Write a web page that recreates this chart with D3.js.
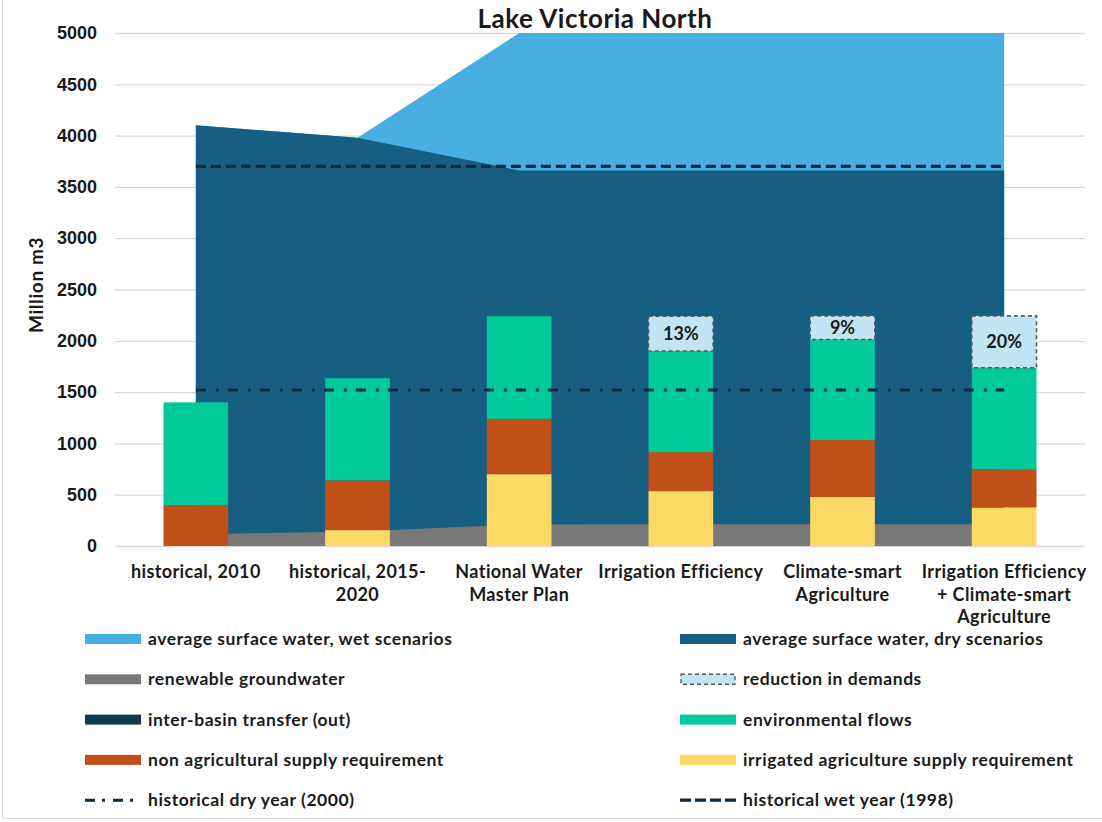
<!DOCTYPE html>
<html>
<head>
<meta charset="utf-8">
<script src="https://cdn.jsdelivr.net/npm/d3@7"></script>
<style>
  body { margin: 0; background: #fff; }
  text { font-family: Lato, "Liberation Sans", sans-serif; fill: #1a1a1a; }
</style>
</head>
<body>
<svg id="chart" width="1102" height="822"></svg>
<script>
// Water balance scenarios, Lake Victoria North basin (million m3)
const categories = [
  "historical, 2010",
  "historical, 2015-2020",
  "National Water Master Plan",
  "Irrigation Efficiency",
  "Climate-smart Agriculture",
  "Irrigation Efficiency + Climate-smart Agriculture"
];
const tickLabels = [
  ["historical, 2010"],
  ["historical, 2015-", "2020"],
  ["National Water", "Master Plan"],
  ["Irrigation Efficiency"],
  ["Climate-smart", "Agriculture"],
  ["Irrigation Efficiency", "+ Climate-smart", "Agriculture"]
];

// supply (areas)
const surfaceWet  = [4100, 3980, 5000, 5000, 5000, 5000];
const surfaceDry  = [4100, 3980, 3660, 3660, 3660, 3660];
const groundwater = [115, 142, 210, 212, 212, 212];

// demand (stacked columns)
const interBasinOut      = [0, 0, 0, 0, 0, 0];
const irrigatedAg        = [0, 155, 700, 535, 478, 375];
const nonAgricultural    = [400, 485, 540, 380, 555, 375];
const environmentalFlows = [1000, 995, 1000, 985, 980, 988];
const demandReduction    = [0, 0, 0, 340, 230, 505];
const reductionLabels    = ["", "", "", "13%", "9%", "20%"];

// reference years
const dryYear2000 = 1520;
const wetYear1998 = 3700;

const yTicks = [0, 500, 1000, 1500, 2000, 2500, 3000, 3500, 4000, 4500, 5000];

const colors = {
  wet: "#47AFE0",
  dry: "#175F82",
  groundwater: "#787878",
  reduction: "#C2E5F5",
  interBasin: "#0D3A50",
  env: "#00C99A",
  nonAg: "#C05017",
  irrigated: "#FFD966",
  refLine: "#0E2A3C"
};

const svg = d3.select("#chart");
const plot = { left: 115, right: 1085, top: 33, bottom: 546 };

const x = d3.scaleBand()
  .domain(categories)
  .range([plot.left, plot.right])
  .paddingInner(0.6)
  .paddingOuter(0.3);
const cx = c => x(c) + x.bandwidth() / 2;

const y = d3.scaleLinear().domain([0, 5000]).range([plot.bottom, plot.top]);

// chart frame (left and bottom edge)
svg.append("path")
  .attr("d", "M2.5,0V818.5H1102")
  .attr("fill", "none").attr("stroke", "#d9d9d9").attr("stroke-width", 1);

// title
svg.append("text")
  .attr("x", 595).attr("y", 28)
  .attr("text-anchor", "middle")
  .style("font-size", "26px").style("font-weight", 700).style("letter-spacing", "0.5px")
  .text("Lake Victoria North");

// gridlines + y tick labels
const yAxis = svg.append("g")
  .attr("transform", `translate(${plot.left},0)`)
  .call(d3.axisLeft(y).tickValues(yTicks).tickFormat(d3.format("d"))
    .tickSize(-(plot.right - plot.left)).tickPadding(18));
yAxis.select(".domain").remove();
yAxis.selectAll(".tick line").attr("stroke", "#d9d9d9").attr("stroke-width", 1.3);
yAxis.selectAll(".tick text")
  .style("font-family", "'Liberation Sans', Arial, sans-serif")
  .style("font-size", "18px").style("font-weight", 700).attr("fill", "#1a1a1a");

// y axis title
svg.append("text")
  .attr("transform", "translate(43,285) rotate(-90)")
  .attr("text-anchor", "middle")
  .style("font-size", "19px").style("font-weight", 700).style("letter-spacing", "0.6px")
  .text("Million m3");

// clip for the supply areas
svg.append("clipPath").attr("id", "plotClip")
  .append("rect")
  .attr("x", plot.left).attr("y", plot.top)
  .attr("width", plot.right - plot.left).attr("height", plot.bottom - plot.top);

const areaGen = d3.area()
  .x(d => cx(d.cat))
  .y0(y(0))
  .y1(d => y(d.v));
const asSeries = arr => categories.map((c, i) => ({ cat: c, v: arr[i] }));

const areas = svg.append("g").attr("clip-path", "url(#plotClip)");
areas.append("path").attr("d", areaGen(asSeries(surfaceWet))).attr("fill", colors.wet);
areas.append("path").attr("d", areaGen(asSeries(surfaceDry))).attr("fill", colors.dry);
areas.append("path").attr("d", areaGen(asSeries(groundwater))).attr("fill", colors.groundwater);

// wet-year reference line
const refLine = (val) => d3.line()([[cx(categories[0]), y(val)], [cx(categories[categories.length - 1]), y(val)]]);
svg.append("path")
  .attr("d", refLine(wetYear1998))
  .attr("stroke", colors.refLine).attr("stroke-width", 3.2)
  .attr("stroke-dasharray", "10,5").attr("fill", "none");

// stacked demand columns
const rows = categories.map((c, i) => ({
  cat: c,
  interBasin: interBasinOut[i],
  irrigated: irrigatedAg[i],
  nonAg: nonAgricultural[i],
  env: environmentalFlows[i],
  reduction: demandReduction[i]
}));
const keys = ["interBasin", "irrigated", "nonAg", "env", "reduction"];
const stacked = d3.stack().keys(keys)(rows);

const bars = svg.append("g");
stacked.forEach(layer => {
  const key = layer.key;
  bars.append("g").selectAll("rect")
    .data(layer.filter(d => d[1] - d[0] > 0))
    .join("rect")
    .attr("x", d => x(d.data.cat))
    .attr("width", x.bandwidth())
    .attr("y", d => y(d[1]))
    .attr("height", d => y(d[0]) - y(d[1]))
    .attr("fill", colors[key])
    .attr("stroke", key === "reduction" ? "#595959" : "none")
    .attr("stroke-width", key === "reduction" ? 1.6 : 0)
    .attr("stroke-dasharray", key === "reduction" ? "4,3" : null);
});

// reduction percentage labels
const redLayer = stacked.find(l => l.key === "reduction");
svg.append("g").selectAll("text")
  .data(redLayer.filter((d, i) => reductionLabels[i] !== ""))
  .join("text")
  .attr("x", d => cx(d.data.cat))
  .attr("y", d => (y(d[0]) + y(d[1])) / 2)
  .attr("dy", "0.36em")
  .attr("text-anchor", "middle")
  .style("font-size", "18px").style("font-weight", 700)
  .text(d => reductionLabels[categories.indexOf(d.data.cat)]);

// dry-year reference line (drawn over the columns)
svg.append("path")
  .attr("d", refLine(dryYear2000))
  .attr("stroke", colors.refLine).attr("stroke-width", 3)
  .attr("stroke-dasharray", "10,10,3,9").attr("fill", "none");

// category labels
const xAxis = svg.append("g")
  .attr("transform", `translate(0,${plot.bottom})`)
  .call(d3.axisBottom(x).tickSize(0).tickFormat(() => ""));
xAxis.select(".domain").remove();
xAxis.selectAll(".tick text").remove();
xAxis.selectAll(".tick").each(function (c) {
  const lines = tickLabels[categories.indexOf(c)];
  const t = d3.select(this).append("text")
    .attr("text-anchor", "middle")
    .attr("y", 32)
    .style("font-size", "18px").style("font-weight", 700).style("letter-spacing", "0.4px")
    .attr("fill", "#1a1a1a");
  lines.forEach((ln, k) => {
    t.append("tspan").attr("x", 0).attr("dy", k === 0 ? 0 : 22.5).text(ln);
  });
});

// legend
const legendItems = [
  { label: "average surface water, wet scenarios", type: "rect", color: colors.wet },
  { label: "average surface water, dry scenarios", type: "rect", color: colors.dry },
  { label: "renewable groundwater", type: "rect", color: colors.groundwater },
  { label: "reduction in demands", type: "dashedRect", color: colors.reduction },
  { label: "inter-basin transfer (out)", type: "rect", color: colors.interBasin },
  { label: "environmental flows", type: "rect", color: colors.env },
  { label: "non agricultural supply requirement", type: "rect", color: colors.nonAg },
  { label: "irrigated agriculture supply requirement", type: "rect", color: colors.irrigated },
  { label: "historical dry year (2000)", type: "dashdot", color: colors.refLine },
  { label: "historical wet year (1998)", type: "dash", color: colors.refLine }
];
const legCols = [85, 680];
const legRow0 = 639, legRowStep = 40.3;
const legend = svg.append("g");
legendItems.forEach((it, i) => {
  const gx = legCols[i % 2];
  const gy = legRow0 + Math.floor(i / 2) * legRowStep;
  const g = legend.append("g").attr("transform", `translate(${gx},${gy})`);
  if (it.type === "rect") {
    g.append("rect").attr("x", 0).attr("y", -5).attr("width", 56).attr("height", 10).attr("fill", it.color);
  } else if (it.type === "dashedRect") {
    g.append("rect").attr("x", 1).attr("y", -5).attr("width", 54).attr("height", 10)
      .attr("fill", it.color).attr("stroke", "#595959").attr("stroke-width", 1.4).attr("stroke-dasharray", "4,3");
  } else if (it.type === "dashdot") {
    g.append("line").attr("x1", 0).attr("x2", 56).attr("y1", 0).attr("y2", 0)
      .attr("stroke", it.color).attr("stroke-width", 3).attr("stroke-dasharray", "10,7,3,8");
  } else {
    g.append("line").attr("x1", 0).attr("x2", 56).attr("y1", 0).attr("y2", 0)
      .attr("stroke", it.color).attr("stroke-width", 3.2).attr("stroke-dasharray", "11,4");
  }
  g.append("text").attr("x", 63).attr("y", 0).attr("dy", "0.35em")
    .style("font-size", "17.5px").style("font-weight", 700).style("letter-spacing", "0.55px")
    .attr("fill", "#262626")
    .text(it.label);
});
</script>
</body>
</html>
